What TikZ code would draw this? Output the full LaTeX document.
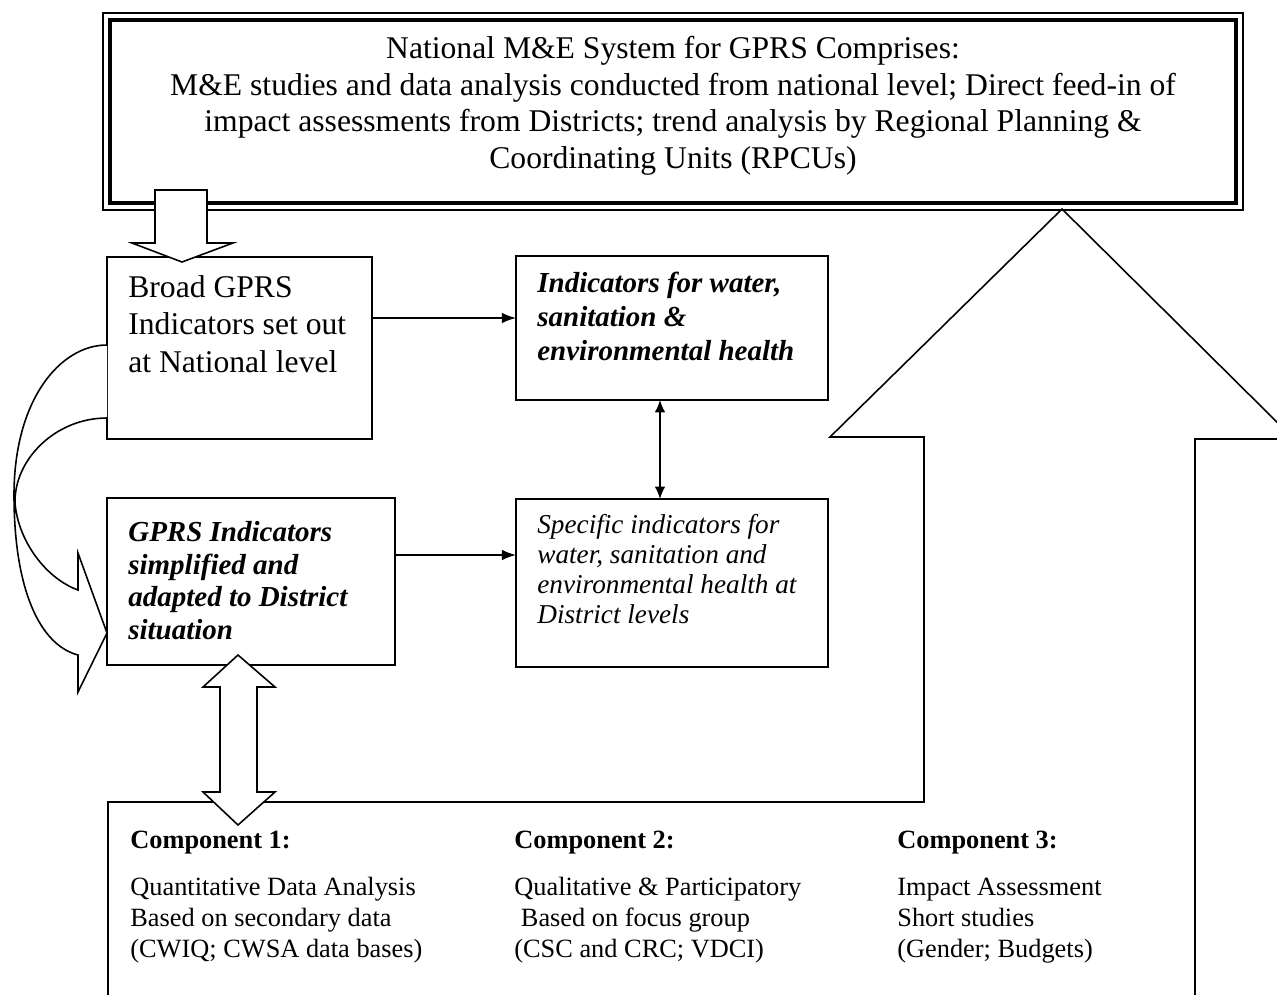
\documentclass[tikz,border=0pt]{standalone}
\usepackage{fontspec}
\setmainfont{Liberation Serif}
\usetikzlibrary{arrows.meta}

\tikzset{
  box/.style={draw, line width=0.9pt, inner sep=0pt, outer sep=0pt},
  txt/.style={inner sep=0pt, align=left, anchor=north west},
  arr/.style={line width=0.9pt, -{Latex[length=8pt,width=6pt]}},
  dblarr/.style={line width=0.9pt, {Latex[length=7pt,width=6pt]}-{Latex[length=7pt,width=6pt]}},
  blockarrow/.style={draw, line width=0.9pt, fill=white, line join=miter},
}

\begin{document}
\begin{tikzpicture}[x=0.02cm,y=-0.02cm]
		\useasboundingbox (0,0) rectangle (1277,994);
		\clip (0,0) rectangle (1277,994);
		% national system
		\node[box, minimum width=22.8cm, minimum height=3.94cm] (natl) at (673,111.5) {};
		\draw[line width=2.6pt] ([shift={(7,7)}]natl.north west) rectangle ([shift={(-7,-7)}]natl.south east);
		\node[txt, anchor=north, align=center, font=\fontsize{18}{20.8}\selectfont] (natltxt) at (673,36) {National M\&E System for GPRS Comprises:\\ M\&E studies and data analysis conducted from national level; Direct feed-in of\\ impact assessments from Districts; trend analysis by Regional Planning \&\\ Coordinating Units (RPCUs)};
		% indicator boxes
		\node[box, minimum width=5.3cm, minimum height=3.64cm] (broad) at (239.5,348) {};
		\node[txt, font=\fontsize{18}{21.3}\selectfont] (broadtxt) at (128,275) {Broad GPRS\\ Indicators set out\\ at National level};
		\node[box, minimum width=6.24cm, minimum height=2.88cm] (water) at (672,328) {};
		\node[txt, font=\fontsize{16.5}{19.4}\selectfont\bfseries\itshape] (watertxt) at (537,272) {Indicators for water,\\ sanitation \&\\ environmental health};
		\node[box, minimum width=5.76cm, minimum height=3.34cm] (gprs) at (251,581.5) {};
		\node[txt, font=\fontsize{16.5}{18.6}\selectfont\bfseries\itshape] (gprstxt) at (128,521) {GPRS Indicators\\ simplified and\\ adapted to District\\ situation};
		\node[box, minimum width=6.24cm, minimum height=3.36cm] (specific) at (672,583) {};
		\node[txt, font=\fontsize{15.5}{17}\selectfont\itshape] (specifictxt) at (537,514) {Specific indicators for\\ water, sanitation and\\ environmental health at\\ District levels};
		\draw[arr] (broad.east |- 0,318) -- (water.west |- 0,318);
		\draw[arr] (gprs.east |- 0,555) -- (specific.west |- 0,555);
		\draw[dblarr] (water.south -| 660,0) -- (specific.north -| 660,0);
		% components frame and big up arrow
		\draw[line width=0.9pt, line join=miter] (108,1000) -- (108,802) -- (924,802) -- (924,437) -- (830,437) -- (1062,209) -- (1294,439) -- (1195,439) -- (1195,1000);
		\node[txt, font=\fontsize{15}{17.6}\selectfont] (comp1) at (130,831) {\textbf{Component 1:}\\[9pt] Quantitative Data Analysis\\ Based on secondary data\\ (CWIQ; CWSA data bases)};
		\node[txt, font=\fontsize{15}{17.6}\selectfont] (comp2) at (514,831) {\textbf{Component 2:}\\[9pt] Qualitative \& Participatory\\ \ Based on focus group\\ (CSC and CRC; VDCI)};
		\node[txt, font=\fontsize{15}{17.6}\selectfont] (comp3) at (897,831) {\textbf{Component 3:}\\[9pt] Impact Assessment\\ Short studies\\ (Gender; Budgets)};
		% block arrows
		\draw[blockarrow] (155,190) -- (207,190) -- (207,243) -- (233,243) -- (182,262) -- (132,243) -- (155,243) -- cycle;
		\draw[blockarrow] (broad.west |- 0,345) .. controls (60,345) and (14,400) .. (14,495) .. controls (14,590) and (40,645) .. (78,655) -- (78,692) -- (107,633) -- (78,553) -- (78,590) .. controls (45,578) and (18,540) .. (15,503) .. controls (14,460) and (55,418) .. (broad.west |- 0,418);
		\draw[blockarrow] (238,655) -- (275,687) -- (257,687) -- (257,792) -- (275,792) -- (238,825) -- (203,792) -- (220,792) -- (220,687) -- (203,687) -- cycle;
	\end{tikzpicture}
\end{document}
